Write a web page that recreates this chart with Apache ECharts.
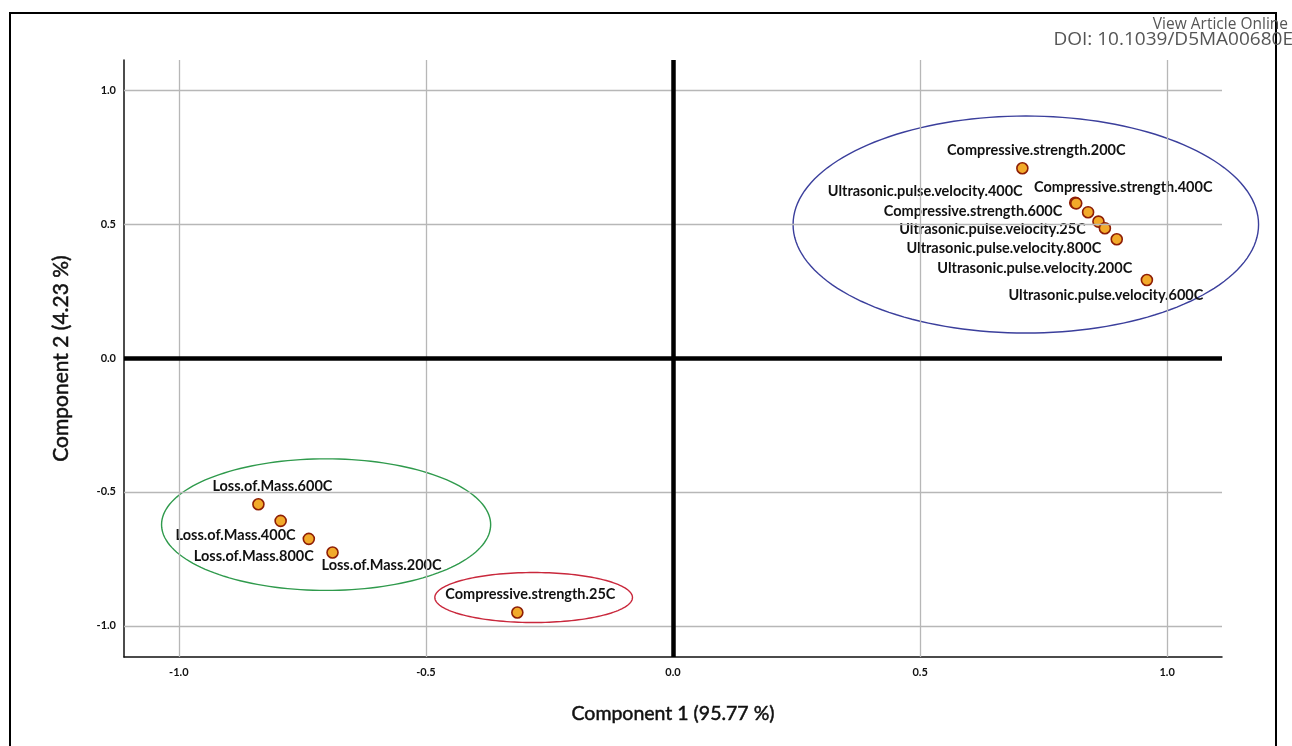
<!DOCTYPE html>
<html>
<head>
<meta charset="utf-8">
<script src="https://cdn.jsdelivr.net/npm/echarts@6/dist/echarts.min.js"></script>
<style>
  html, body { margin: 0; padding: 0; background: #fff; }
  #chart { width: 1292px; height: 746px; }
</style>
</head>
<body>
<div id="chart"></div>
<script>
// ---------- data ----------
const variableNames = [
  'Compressive.strength.200C',
  'Ultrasonic.pulse.velocity.400C',
  'Compressive.strength.400C',
  'Compressive.strength.600C',
  'Ultrasonic.pulse.velocity.25C',
  'Ultrasonic.pulse.velocity.800C',
  'Ultrasonic.pulse.velocity.200C',
  'Ultrasonic.pulse.velocity.600C',
  'Loss.of.Mass.600C',
  'Loss.of.Mass.400C',
  'Loss.of.Mass.800C',
  'Loss.of.Mass.200C',
  'Compressive.strength.25C'
];
const component1 = [0.707, 0.814, 0.816, 0.840, 0.861, 0.874, 0.898, 0.959,
                    -0.839, -0.794, -0.737, -0.689, -0.315];
const component2 = [0.708, 0.579, 0.577, 0.544, 0.509, 0.484, 0.443, 0.291,
                    -0.546, -0.608, -0.675, -0.726, -0.950];

const xTicks = [-1.0, -0.5, 0.0, 0.5, 1.0];
const yTicks = [-1.0, -0.5, 0.0, 0.5, 1.0];

// group ellipses: centre x, centre y, radius x, radius y (data units)
const ellipseCx = [0.714, -0.702, -0.282];
const ellipseCy = [0.498, -0.622, -0.894];
const ellipseRx = [0.471, 0.333, 0.200];
const ellipseRy = [0.405, 0.2455, 0.0933];

const xTitle = 'Component 1 (95.77 %)';
const yTitle = 'Component 2 (4.23 %)';

// ---------- styling / layout (not data) ----------
const ellipseColors = ['#3b3f9c', '#2f9a4c', '#c9283c'];
// label centre offsets from each point, in pixels
const labelOffsets = [
  [14, -18], [-150, -11], [47, -16], [-115, -1], [-106, 8], [-101, 20], [-82, 29], [-41, 15],
  [14, -18], [-45, 14], [-55, 17], [49, 13], [13, -18]
];

const FONT = 'Lato';

const points = variableNames.map((n, i) => ({
  name: n,
  value: [component1[i], component2[i]]
}));

const ellipseData = ellipseCx.map((cx, i) => [cx, ellipseCy[i], ellipseRx[i], ellipseRy[i], i]);

const chart = echarts.init(document.getElementById('chart'), null, { renderer: 'canvas' });

const option = {
  animation: false,
  backgroundColor: '#ffffff',
  grid: { left: 124, right: 70, top: 60, bottom: 89, containLabel: false },
  xAxis: {
    type: 'value',
    min: -1.111, max: 1.111,
    axisLine: { show: true, onZero: false, lineStyle: { color: '#111', width: 1.5 } },
    axisTick: { show: false },
    splitLine: { show: false },
    axisLabel: {
      customValues: xTicks,
      formatter: v => v.toFixed(1),
      fontFamily: FONT, fontWeight: 'bold', fontSize: 11, color: '#111', margin: 10
    },
    name: xTitle,
    nameLocation: 'middle',
    nameGap: 47,
    nameTextStyle: { fontFamily: FONT, fontSize: 19.5, color: '#111', fontWeight: 'normal',
                     textBorderColor: '#111', textBorderWidth: 0.5 }
  },
  yAxis: {
    type: 'value',
    min: -1.116, max: 1.112,
    axisLine: { show: true, onZero: false, lineStyle: { color: '#111', width: 1.5 } },
    axisTick: { show: false },
    splitLine: { show: false },
    axisLabel: {
      customValues: yTicks,
      formatter: v => v.toFixed(1),
      fontFamily: FONT, fontWeight: 'bold', fontSize: 11, color: '#111', margin: 8
    },
    name: yTitle,
    nameLocation: 'middle',
    nameGap: 52,
    nameTextStyle: { fontFamily: FONT, fontSize: 21, color: '#111', fontWeight: 'normal',
                     textBorderColor: '#111', textBorderWidth: 0.5 }
  },
  graphic: [
    { type: 'rect', z: 100, silent: true,
      shape: { x: 10, y: 13, width: 1266, height: 780 },
      style: { fill: 'none', stroke: '#000', lineWidth: 2 } },
    { type: 'text', z: 101, silent: true,
      style: { x: 1288, y: 25, text: 'View Article Online', align: 'right', verticalAlign: 'middle',
               font: '15.5px "Open Sans"', fill: '#555' } },
    { type: 'text', z: 101, silent: true,
      style: { x: 1293, y: 40, text: 'DOI: 10.1039/D5MA00680E', align: 'right', verticalAlign: 'middle',
               font: '19px "Open Sans"', fill: '#555' } }
  ],
  series: [
    { // grid lines
      type: 'scatter', data: [], z: 1, silent: true,
      markLine: {
        silent: true, symbol: 'none', animation: false,
        label: { show: false },
        lineStyle: { color: '#b7b7b7', width: 1.3, type: 'solid' },
        data: [
          ...xTicks.filter(v => v !== 0).map(v => ({ xAxis: v })),
          ...yTicks.filter(v => v !== 0).map(v => ({ yAxis: v }))
        ]
      }
    },
    { // zero lines
      type: 'scatter', data: [], z: 2, silent: true,
      markLine: {
        silent: true, symbol: 'none', animation: false,
        label: { show: false },
        lineStyle: { color: '#000', width: 4.5, type: 'solid' },
        data: [{ xAxis: 0 }, { yAxis: 0 }]
      }
    },
    { // ellipses
      type: 'custom', z: 3, silent: true, clip: false,
      data: ellipseData,
      encode: { x: 0, y: 1 },
      renderItem: function (params, api) {
        const cx = api.value(0), cy = api.value(1), rx = api.value(2), ry = api.value(3);
        const idx = api.value(4);
        const pts = [];
        const N = 160;
        for (let k = 0; k < N; k++) {
          const t = 2 * Math.PI * k / N;
          pts.push(api.coord([cx + rx * Math.cos(t), cy + ry * Math.sin(t)]));
        }
        return {
          type: 'polygon',
          shape: { points: pts },
          style: { fill: 'none', stroke: ellipseColors[idx], lineWidth: 1.4 }
        };
      }
    },
    { // loadings
      type: 'scatter', z: 4,
      data: points,
      symbol: 'circle',
      symbolSize: 11,
      itemStyle: { color: '#f2aa2a', borderColor: '#8e1e05', borderWidth: 1.6, opacity: 1 },
      label: {
        show: true, position: 'inside',
        formatter: p => p.name,
        fontFamily: FONT, fontSize: 14.5, color: '#111', fontWeight: 'bold'
      },
      labelLayout: function (params) {
        const o = labelOffsets[params.dataIndex];
        return { dx: o[0], dy: o[1], hideOverlap: false };
      }
    }
  ]
};
chart.setOption(option);
</script>
</body>
</html>
